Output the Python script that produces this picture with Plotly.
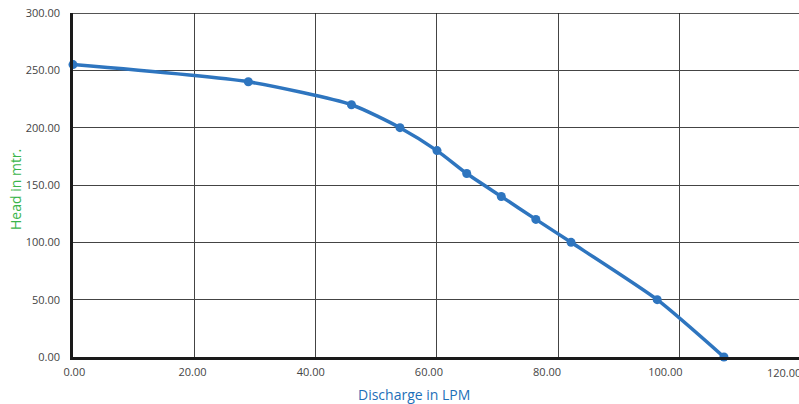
import plotly.graph_objects as go

discharge = [0.0, 28.9, 45.9, 53.9, 60.0, 64.9, 70.6, 76.3, 82.1, 96.3, 107.3]
head = [255, 240, 220, 200, 180, 160, 140, 120, 100, 50, 0]
x_ticks = [0, 20, 40, 60, 80, 100, 120]
y_ticks = [0, 50, 100, 150, 200, 250, 300]

FONT = "Open Sans"
W, H = 799, 404
L, T, B = 73, 13, 47
plot_w = W - L
px_per_unit = 121.33 / 20
x_max = plot_w / px_per_unit
# tick labels in the reference sit on a slightly narrower spacing than the grid
lab_px_per_unit = 118.2 / 20
lab_min = -1.3 / lab_px_per_unit
lab_max = lab_min + plot_w / lab_px_per_unit

fig = go.Figure()
fig.add_trace(go.Scatter(
    x=discharge, y=head, mode="lines+markers",
    line=dict(color="#2e75bf", width=3.5, shape="spline", smoothing=0.6),
    marker=dict(color="#2e75bf", size=9),
    showlegend=False, cliponaxis=False,
))
fig.add_trace(go.Scatter(x=[], y=[], xaxis="x2", showlegend=False, hoverinfo="skip"))

fig.update_layout(
    width=W, height=H,
    margin=dict(l=L, r=0, t=T, b=B),
    paper_bgcolor="white", plot_bgcolor="white",
    font=dict(family=FONT, size=11, color="#444"),
    xaxis=dict(
        range=[0, x_max], tickvals=x_ticks, showticklabels=False,
        showgrid=True, gridcolor="#444", gridwidth=1.2,
        showline=True, linecolor="#1a1a1a", linewidth=2.5,
        zeroline=False, ticks="",
    ),
    xaxis2=dict(
        overlaying="x", anchor="y", side="bottom",
        range=[lab_min, lab_max], tickvals=x_ticks[:-1],
        ticktext=[f"{v:.2f}" for v in x_ticks[:-1]],
        showgrid=False, showline=False, zeroline=False,
        ticks="outside", ticklen=5, tickcolor="rgba(0,0,0,0)",
        tickfont=dict(family=FONT, size=11, color="#444"),
    ),
    yaxis=dict(
        range=[0, 300], tickvals=y_ticks,
        ticktext=[f"{v:.2f}" for v in y_ticks],
        showgrid=True, gridcolor="#444", gridwidth=1.2,
        showline=True, linecolor="#1a1a1a", linewidth=2.5,
        zeroline=False, ticks="outside", ticklen=8, tickcolor="rgba(0,0,0,0)",
        tickfont=dict(family=FONT, size=11, color="#444"),
    ),
)

# last x tick label (partly beyond the right edge)
fig.add_annotation(text=f"{x_ticks[-1]:.2f}", xref="x2", yref="paper",
                   x=x_ticks[-1], y=0, yshift=-15, showarrow=False,
                   xanchor="center", yanchor="middle",
                   font=dict(family=FONT, size=11, color="#444"))

# top border line at y = 300
fig.add_shape(type="line", xref="paper", yref="y", x0=0, x1=1, y0=300, y1=300,
              line=dict(color="#1a1a1a", width=1.5))

# axis titles
fig.add_annotation(text="Discharge in LPM", xref="paper", yref="paper",
                   x=(414 - L) / plot_w, y=0, yshift=-37, showarrow=False,
                   xanchor="center", yanchor="middle",
                   font=dict(family=FONT, size=14, color="#1d6fb8"))
fig.add_annotation(text="Head in mtr.", xref="paper", yref="paper",
                   x=0, xshift=-58, y=0.5, yshift=-5, showarrow=False, textangle=-90,
                   xanchor="center", yanchor="middle",
                   font=dict(family=FONT, size=14, color="#3ab54a"))

fig.write_html("out.html", config={"displayModeBar": False},
               post_script="document.body.style.margin='0';document.body.style.overflow='hidden';")
